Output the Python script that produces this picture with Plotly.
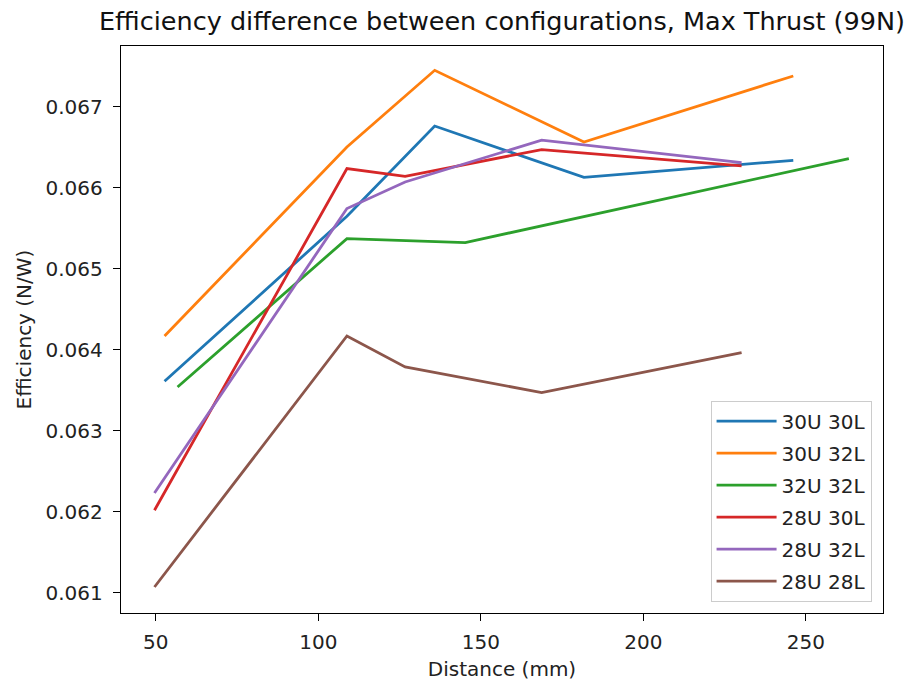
import plotly.graph_objects as go

series_names = ["30U 30L", "30U 32L", "32U 32L", "28U 30L", "28U 32L", "28U 28L"]
colors = ["#1f77b4", "#ff7f0e", "#2ca02c", "#d62728", "#9467bd", "#8c564b"]

x_30u30l = [52.7, 108.8, 135.8, 181.7, 246.1]
y_30u30l = [0.063614, 0.065651, 0.066765, 0.066132, 0.066342]

x_30u32l = [52.7, 108.8, 135.8, 181.7, 246.1]
y_30u32l = [0.064173, 0.066506, 0.067453, 0.066568, 0.067383]

x_32u32l = [56.7, 108.8, 145.2, 263.2]
y_32u32l = [0.063543, 0.065375, 0.065326, 0.066363]

x_28u30l = [49.6, 108.8, 126.7, 168.7, 230.2]
y_28u30l = [0.062021, 0.066240, 0.066144, 0.066474, 0.066272]

x_28u32l = [49.6, 108.8, 126.7, 168.7, 230.2]
y_28u32l = [0.062235, 0.065746, 0.066074, 0.066590, 0.066314]

x_28u28l = [49.6, 108.8, 126.7, 168.7, 230.2]
y_28u28l = [0.061074, 0.064173, 0.063790, 0.063474, 0.063968]

xs = [x_30u30l, x_30u32l, x_32u32l, x_28u30l, x_28u32l, x_28u28l]
ys = [y_30u30l, y_30u32l, y_32u32l, y_28u30l, y_28u32l, y_28u28l]

x_ticks = [50, 100, 150, 200, 250]
y_ticks = [0.061, 0.062, 0.063, 0.064, 0.065, 0.066, 0.067]

fig = go.Figure()
for i, name in enumerate(series_names):
    fig.add_trace(go.Scatter(
        x=xs[i], y=ys[i], mode="lines", name=name,
        line=dict(color=colors[i], width=2.8),
        legendgroup=name,
    ))

font_family = "DejaVu Sans"
axis_common = dict(
    showline=True, linecolor="black", linewidth=1.4, mirror=True,
    ticks="outside", ticklen=7, tickwidth=1.4, tickcolor="black",
    showgrid=False, zeroline=False, automargin=False,
    tickfont=dict(family=font_family, size=20, color="#222"),
)

fig.update_layout(
    width=909, height=683,
    margin=dict(l=121, r=26, t=46, b=70),
    paper_bgcolor="white", plot_bgcolor="white",
    font=dict(family=font_family, size=20, color="#222"),
    title=dict(
        text="Efficiency difference between configurations, Max Thrust (99N)",
        x=0.5, xref="paper", y=1 - 21 / 683, yref="container",
        xanchor="center", yanchor="middle",
        font=dict(family=font_family, size=25.5, color="#111"),
    ),
    xaxis=dict(
        range=[39.3, 273.7], tickvals=x_ticks, ticklabelstandoff=4,
        title=dict(text="Distance (mm)", font=dict(size=20), standoff=8),
        **axis_common,
    ),
    yaxis=dict(
        range=[0.060753, 0.067753], tickvals=y_ticks, tickformat=".3f",
        ticklabelstandoff=6,
        title=dict(text="Efficiency (N/W)", font=dict(size=20), standoff=8),
        **axis_common,
    ),
    legend=dict(
        x=0.985, y=0.02, xanchor="right", yanchor="bottom",
        bgcolor="rgba(255,255,255,0.8)", bordercolor="#cccccc", borderwidth=1,
        font=dict(family=font_family, size=20, color="#222"),
        tracegroupgap=3, traceorder="grouped", itemwidth=60,
    ),
    showlegend=True,
)

fig.write_html("out.html")
